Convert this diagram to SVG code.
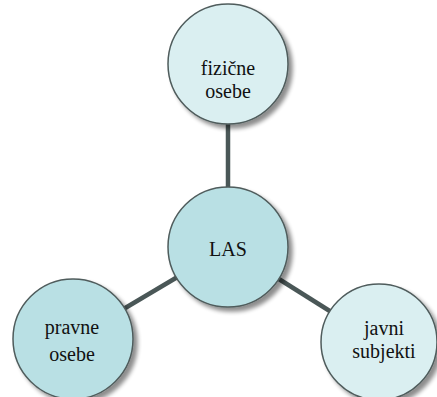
<svg xmlns="http://www.w3.org/2000/svg" width="437" height="397" viewBox="0 0 437 397">
<defs>
<filter id="sh" x="-20%" y="-20%" width="150%" height="150%">
<feGaussianBlur in="SourceAlpha" stdDeviation="2"/>
<feOffset dx="4" dy="4" result="b"/>
<feComponentTransfer><feFuncA type="linear" slope="0.45"/></feComponentTransfer>
<feMerge><feMergeNode/><feMergeNode in="SourceGraphic"/></feMerge>
</filter>
<style>
.c{stroke:#4f5c5c;stroke-width:1.5;filter:url(#sh)}
.d{fill:#b9e0e4}
.l{fill:#daeff1}
.t{font-family:'Liberation Serif','Times New Roman',serif;font-size:20px;fill:#111;text-anchor:middle}
.e{stroke:#4a5757;stroke-width:4.5;fill:none}
</style>
</defs>
<rect width="437" height="397" fill="#fff"/>
<g id="connectors">
<line class="e" x1="228" y1="247" x2="228" y2="64"/>
<line class="e" x1="228" y1="247" x2="73" y2="339"/>
<line class="e" x1="228" y1="247" x2="379" y2="342"/>
</g>
<g id="fizicne">
<circle class="c l" cx="228" cy="64" r="60"/>
<text class="t" x="228" y="75">fizične</text>
<text class="t" x="228" y="98">osebe</text>
</g>
<g id="las">
<circle class="c d" cx="228" cy="247" r="60"/>
<text class="t" x="228" y="256">LAS</text>
</g>
<g id="pravne">
<circle class="c d" cx="73" cy="339" r="60"/>
<text class="t" x="72" y="334">pravne</text>
<text class="t" x="72" y="361">osebe</text>
</g>
<g id="javni">
<circle class="c l" cx="379" cy="342" r="58"/>
<text class="t" x="384" y="335">javni</text>
<text class="t" x="384" y="358">subjekti</text>
</g>
</svg>
